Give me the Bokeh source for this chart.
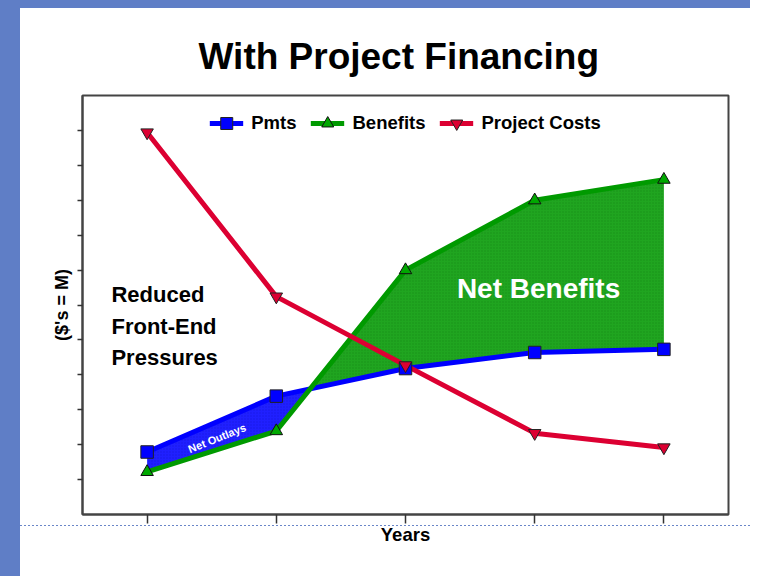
import numpy as np
from bokeh.plotting import figure
from bokeh.models import FixedTicker, Legend, LegendItem
from bokeh.core.properties import value
from bokeh.embed import file_html
from bokeh.resources import INLINE

# ---- data (y in chart units, ticks 1..11) ----
years = [1, 2, 3, 4, 5]
pmts = [1.79, 3.39, 4.18, 4.64, 4.73]
benefits = [1.22, 2.39, 7.00, 9.00, 9.59]
project_costs = [10.94, 6.24, 4.27, 2.33, 1.92]
y_ticks = [1, 2, 3, 4, 5, 6, 7, 8, 9, 10, 11]
x_ticks = [1, 2, 3, 4, 5]

FONT = "Liberation Sans"
BLUE = "#0000ff"
GREEN = "#009a00"
RED = "#dc0032"
SLIDE = "#5f7ec6"

page_bg = (
    f"linear-gradient({SLIDE}, {SLIDE}) 0 0 / 20px 100% no-repeat, "
    f"linear-gradient({SLIDE}, {SLIDE}) 0 0 / 100% 8px no-repeat, "
    "repeating-linear-gradient(90deg, #6a86c8 0px, #6a86c8 2px, transparent 2px, transparent 4px) "
    "20px 525px / 100% 1px no-repeat, #ffffff"
)

p = figure(width=750, height=576, x_range=(0.5, 5.5), y_range=(0, 12),
           output_backend="svg", toolbar_location=None,
           min_border_left=82, min_border_right=22,
           min_border_top=95, min_border_bottom=62,
           title="With Project Financing",
           styles={"background": page_bg})
p.background_fill_color = "white"
p.border_fill_color = None
p.outline_line_color = "#444444"
p.outline_line_width = 2
p.xgrid.visible = False
p.ygrid.visible = False

p.title.text_font = FONT
p.title.text_font_size = "37px"
p.title.text_font_style = "bold"
p.title.align = "left"
p.title.offset = 116
p.title.text_color = "black"
p.title.standoff = 37

for ax in (p.xaxis[0], p.yaxis[0]):
    ax.axis_line_color = "#444444"
    ax.axis_line_width = 2
    ax.major_tick_line_color = "#333333"
    ax.major_tick_line_width = 1.5
    ax.major_tick_in = 0
    ax.minor_tick_line_color = None
    ax.major_label_text_font_size = "0px"
    ax.major_label_text_color = None
    ax.major_label_standoff = 0
    ax.axis_label_text_font = FONT
    ax.axis_label_text_font_style = "bold"
    ax.axis_label_text_color = "black"

p.xaxis.ticker = FixedTicker(ticks=x_ticks)
p.yaxis.ticker = FixedTicker(ticks=y_ticks)
p.xaxis.major_tick_out = 9
p.yaxis.major_tick_out = 5
p.xaxis.axis_label = "Years"
p.xaxis.axis_label_text_font_size = "18.5px"
p.xaxis.axis_label_standoff = 0
p.yaxis.axis_label = "($'s = M)"
p.yaxis.axis_label_text_font_size = "18px"
p.yaxis.axis_label_standoff = 6

# ---- shaded areas between Pmts and Benefits, split at the crossing ----
x = np.array(years, dtype=float)
P = np.array(pmts, dtype=float)
B = np.array(benefits, dtype=float)
d = P - B
i = int(np.where(np.sign(d[:-1]) != np.sign(d[1:]))[0][0])
t = d[i] / (d[i] - d[i + 1])
xc = x[i] + t * (x[i + 1] - x[i])
yc = P[i] + t * (P[i + 1] - P[i])

bx = list(x[:i + 1]) + [xc]
bP = list(P[:i + 1]) + [yc]
bB = list(B[:i + 1]) + [yc]
gx = [xc] + list(x[i + 1:])
gP = [yc] + list(P[i + 1:])
gB = [yc] + list(B[i + 1:])

p.varea(x=bx, y1=bB, y2=bP, fill_color="#2020ff", fill_alpha=1.0,
        hatch_pattern=".", hatch_color="#000099", hatch_alpha=0.25, hatch_scale=3)
p.varea(x=gx, y1=gP, y2=gB, fill_color="#20a520", fill_alpha=1.0,
        hatch_pattern=".", hatch_color="#005500", hatch_alpha=0.25, hatch_scale=3)

# ---- lines and markers ----
pl = p.line(years, pmts, line_width=5, line_color=BLUE)
bl = p.line(years, benefits, line_width=5, line_color=GREEN)
cl = p.line(years, project_costs, line_width=5, line_color=RED)
ps = p.scatter(years, pmts, marker="square", size=12.5, fill_color=BLUE,
               line_color="#222222", line_width=1)
bs = p.scatter(years, benefits, marker="triangle", size=12.5, fill_color="#00a800",
               line_color="#111111", line_width=1)
cs = p.scatter(years, project_costs, marker="inverted_triangle", size=12.5,
               fill_color=RED, line_color="#222222", line_width=1)

legend = Legend(items=[
    LegendItem(label="Pmts", renderers=[pl, ps]),
    LegendItem(label="Benefits", renderers=[bl, bs]),
    LegendItem(label="Project Costs", renderers=[cl, cs]),
], orientation="horizontal", location="top_center")
legend.border_line_color = None
legend.background_fill_alpha = 0
legend.label_text_font = FONT
legend.label_text_font_style = "bold"
legend.label_text_font_size = "18.5px"
legend.label_text_color = "black"
legend.glyph_width = 34
legend.glyph_height = 30
legend.label_height = 30
legend.label_standoff = 8
legend.spacing = 14
legend.padding = 0
legend.margin = 13
p.add_layout(legend, "center")

# ---- annotations inside the plot ----
p.text(x=[0.724, 0.724, 0.724], y=[6.29, 5.38, 4.50],
       text=["Reduced", "Front-End", "Pressures"],
       text_font=value(FONT), text_font_style="bold", text_font_size="22px",
       text_color="black", text_align="left", text_baseline="alphabetic")
p.text(x=[4.03], y=[6.48], text=["Net Benefits"],
       text_font=value(FONT), text_font_style="bold", text_font_size="28px",
       text_color="white", text_align="center", text_baseline="alphabetic")
p.text(x=[1.541], y=[2.186], text=["Net Outlays"], angle=0.38,
       text_font=value(FONT), text_font_style="bold", text_font_size="11px",
       text_color="white", text_align="center", text_baseline="middle")

open("out.html", "w").write(file_html(p, INLINE))
